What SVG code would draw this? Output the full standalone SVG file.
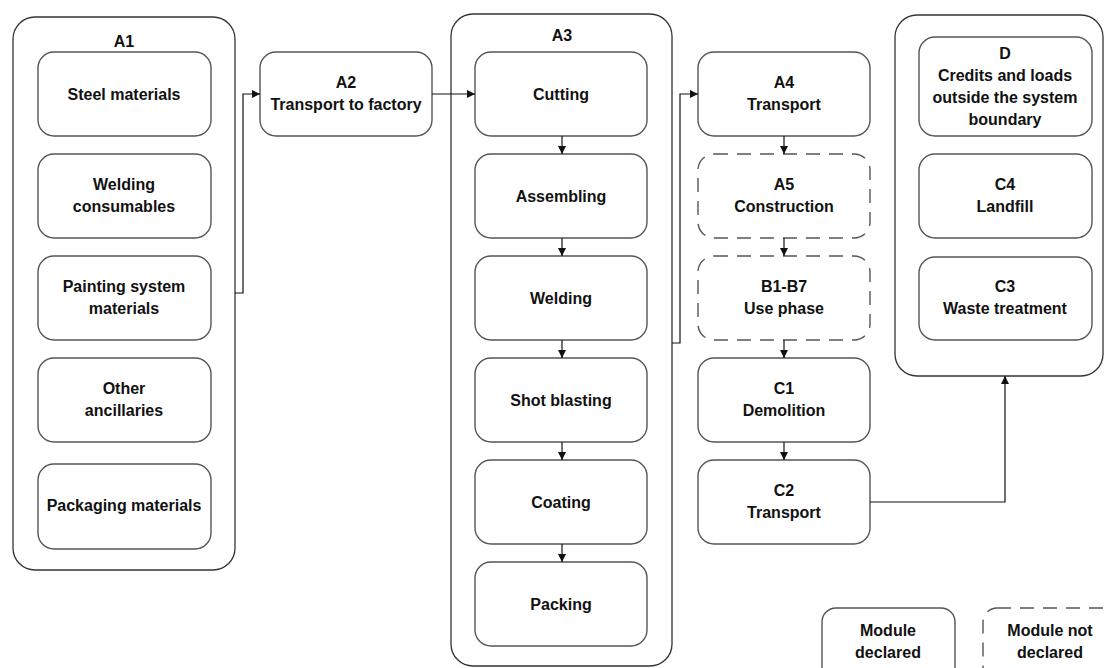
<svg xmlns="http://www.w3.org/2000/svg" width="1105" height="668" viewBox="0 0 1105 668">
<defs>
<style>
.grp{fill:#fff;stroke:#333;stroke-width:1.3}
.box{fill:#fff;stroke:#555;stroke-width:1.4}
.dash{fill:#fff;stroke:#555;stroke-width:1.4;stroke-dasharray:14 9}
.t{font-family:"Liberation Sans",Arial,sans-serif;font-weight:bold;font-size:16px;fill:#111;text-anchor:middle}
.c{fill:none;stroke:#111;stroke-width:1.2}
</style>
<marker id="ah" markerWidth="8" markerHeight="8" refX="8" refY="4" orient="auto" markerUnits="userSpaceOnUse">
<path d="M0,0 L8,4 L0,8 Z" fill="#111"/>
</marker>
</defs>
<rect width="1105" height="668" fill="#fff"/>

<g id="A1">
<rect class="grp" x="13" y="17" width="222" height="553" rx="22"/>
<text class="t" x="124" y="47">A1</text>
</g>
<g id="steel"><rect class="box" x="38" y="52" width="173" height="84" rx="16"/><text class="t" x="124" y="100">Steel materials</text></g>
<g id="weldcons"><rect class="box" x="38" y="154" width="173" height="84" rx="16"/><text class="t" x="124" y="190">Welding</text><text class="t" x="124" y="212">consumables</text></g>
<g id="painting"><rect class="box" x="38" y="256" width="173" height="84" rx="16"/><text class="t" x="124" y="292">Painting system</text><text class="t" x="124" y="314">materials</text></g>
<g id="other"><rect class="box" x="38" y="358" width="173" height="84" rx="16"/><text class="t" x="124" y="394">Other</text><text class="t" x="124" y="416">ancillaries</text></g>
<g id="packaging"><rect class="box" x="38" y="464" width="173" height="85" rx="16"/><text class="t" x="124" y="511">Packaging materials</text></g>

<g id="A2"><rect class="box" x="260" y="52" width="172" height="84" rx="16"/><text class="t" x="346" y="88">A2</text><text class="t" x="346" y="110">Transport to factory</text></g>

<g id="A3">
<rect class="grp" x="451" y="14" width="221" height="652" rx="22"/>
<text class="t" x="562" y="41">A3</text>
</g>
<g id="cutting"><rect class="box" x="475" y="52" width="172" height="84" rx="16"/><text class="t" x="561" y="100">Cutting</text></g>
<g id="assembling"><rect class="box" x="475" y="154" width="172" height="84" rx="16"/><text class="t" x="561" y="202">Assembling</text></g>
<g id="welding"><rect class="box" x="475" y="256" width="172" height="84" rx="16"/><text class="t" x="561" y="304">Welding</text></g>
<g id="shot"><rect class="box" x="475" y="358" width="172" height="84" rx="16"/><text class="t" x="561" y="406">Shot blasting</text></g>
<g id="coating"><rect class="box" x="475" y="460" width="172" height="84" rx="16"/><text class="t" x="561" y="508">Coating</text></g>
<g id="packing"><rect class="box" x="475" y="562" width="172" height="84" rx="16"/><text class="t" x="561" y="610">Packing</text></g>

<g id="A4"><rect class="box" x="698" y="52" width="172" height="84" rx="16"/><text class="t" x="784" y="88">A4</text><text class="t" x="784" y="110">Transport</text></g>
<g id="A5"><rect class="dash" x="698" y="154" width="172" height="84" rx="16"/><text class="t" x="784" y="190">A5</text><text class="t" x="784" y="212">Construction</text></g>
<g id="B1B7"><rect class="dash" x="698" y="256" width="172" height="84" rx="16"/><text class="t" x="784" y="292">B1-B7</text><text class="t" x="784" y="314">Use phase</text></g>
<g id="C1"><rect class="box" x="698" y="358" width="172" height="84" rx="16"/><text class="t" x="784" y="394">C1</text><text class="t" x="784" y="416">Demolition</text></g>
<g id="C2"><rect class="box" x="698" y="460" width="172" height="84" rx="16"/><text class="t" x="784" y="496">C2</text><text class="t" x="784" y="518">Transport</text></g>

<g id="endgroup"><rect class="grp" x="895" y="15" width="208" height="361" rx="22"/></g>
<g id="D"><rect class="box" x="919" y="37" width="173" height="99" rx="16"/><text class="t" x="1005" y="59">D</text><text class="t" x="1005" y="81">Credits and loads</text><text class="t" x="1005" y="103">outside the system</text><text class="t" x="1005" y="125">boundary</text></g>
<g id="C4"><rect class="box" x="919" y="154" width="173" height="84" rx="16"/><text class="t" x="1005" y="190">C4</text><text class="t" x="1005" y="212">Landfill</text></g>
<g id="C3"><rect class="box" x="919" y="257" width="173" height="83" rx="16"/><text class="t" x="1005" y="292">C3</text><text class="t" x="1005" y="314">Waste treatment</text></g>

<g id="legend-declared"><rect class="box" x="822" y="608" width="133" height="80" rx="14"/><text class="t" x="888" y="636">Module</text><text class="t" x="888" y="658">declared</text></g>
<g id="legend-notdeclared"><rect class="dash" x="983" y="608" width="133" height="80" rx="14"/><text class="t" x="1050" y="636">Module not</text><text class="t" x="1050" y="658">declared</text></g>

<g id="connectors">
<path class="c" d="M235,293 H243 V94 H260" marker-end="url(#ah)"/>
<path class="c" d="M432,94 H475" marker-end="url(#ah)"/>
<path class="c" d="M562,136 V154" marker-end="url(#ah)"/>
<path class="c" d="M562,238 V256" marker-end="url(#ah)"/>
<path class="c" d="M562,340 V358" marker-end="url(#ah)"/>
<path class="c" d="M562,442 V460" marker-end="url(#ah)"/>
<path class="c" d="M562,544 V562" marker-end="url(#ah)"/>
<path class="c" d="M672,343 H680 V94 H698" marker-end="url(#ah)"/>
<path class="c" d="M784,136 V154" marker-end="url(#ah)"/>
<path class="c" d="M784,238 V256" marker-end="url(#ah)"/>
<path class="c" d="M784,340 V358" marker-end="url(#ah)"/>
<path class="c" d="M784,442 V460" marker-end="url(#ah)"/>
<path class="c" d="M870,502 H1005 V376" marker-end="url(#ah)"/>
</g>
</svg>
